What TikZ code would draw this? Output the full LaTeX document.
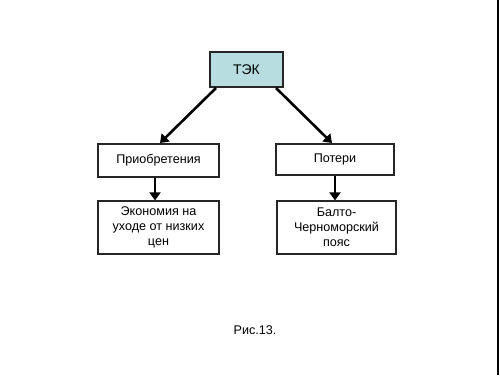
\documentclass[tikz,border=0pt]{standalone}
\usepackage{fontspec}
\setmainfont{Liberation Sans}
\usetikzlibrary{arrows.meta}
\definecolor{tekfill}{RGB}{183,221,224}
\begin{document}
\begin{tikzpicture}[x=1pt,y=-1pt,
  box/.style={draw=black!85,line width=1.2pt,fill=white,inner sep=0pt,align=center,font=\fontsize{12.6}{15}\selectfont},
  arr/.style={line width=2.6pt,-{Triangle[length=8pt,width=11pt]}}]
\useasboundingbox (0,0) rectangle (500,375);
\fill[white] (0,0) rectangle (500,375);
\draw[line width=2pt] (498,0) -- (498,375);
\node[box,fill=tekfill,minimum width=73pt,minimum height=35pt,font=\fontsize{14}{15}\selectfont] (tek) at (246.5,69.5) {ТЭК};
\node[box,minimum width=121pt,minimum height=33pt] (pri) at (158.5,160.5) {Приобретения};
\node[box,minimum width=118pt,minimum height=31pt] (pot) at (335,159.5) {Потери};
\node[box,minimum width=121pt,minimum height=53pt] (eko) at (158.5,227.5) {Экономия на\\уходе от низких\\цен};
\node[box,minimum width=119pt,minimum height=53pt] (bal) at (336.5,227.5) {Балто-\\Черноморский\\пояс};
\node[font=\fontsize{12.6}{14}\selectfont] (ris) at (255,330) {Рис.13.};
\coordinate (tl) at (216,88);
\coordinate (tr) at (276,88);
\draw[arr] (tl) -- (160,143);
\draw[arr] (tr) -- (332,143);
\draw[arr] (pri.south -| 155,0) -- (eko.north -| 155,0);
\draw[arr] (pot.south) -- (pot.south |- eko.north);
\end{tikzpicture}
\end{document}
